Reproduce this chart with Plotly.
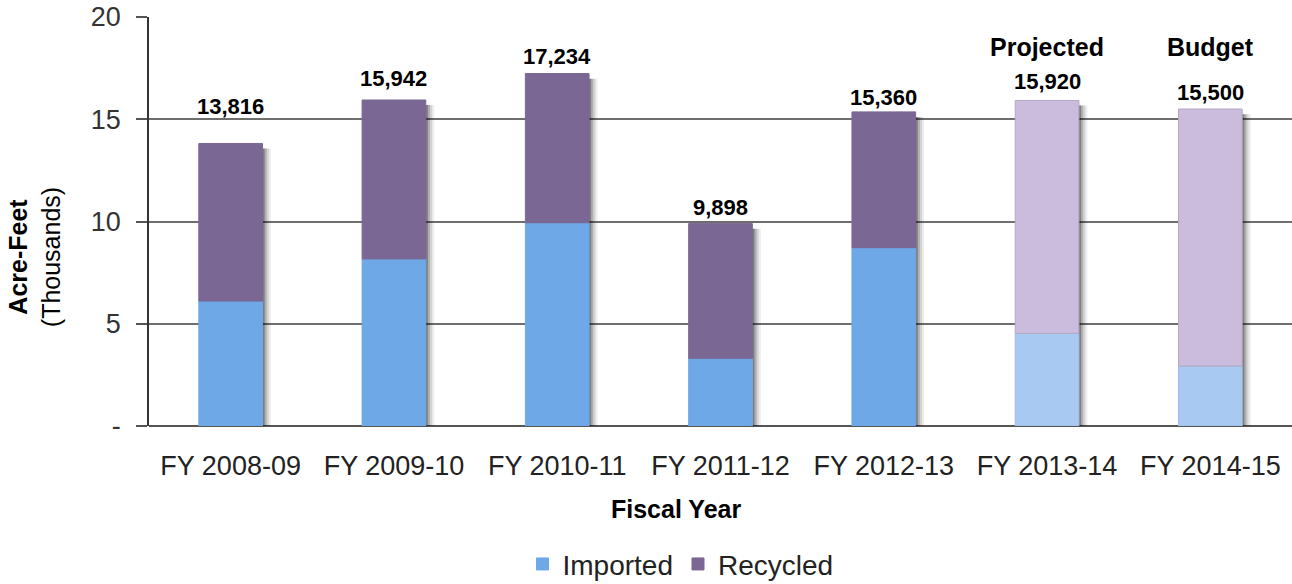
import plotly.graph_objects as go

# Water supply by fiscal year (acre-feet)
categories = ["FY 2008-09", "FY 2009-10", "FY 2010-11", "FY 2011-12",
              "FY 2012-13", "FY 2013-14", "FY 2014-15"]
totals_af = [13816, 15942, 17234, 9898, 15360, 15920, 15500]
imported_k = [6.11, 8.17, 9.94, 3.31, 8.72, 4.53, 2.93]
status_labels = ["", "", "", "", "", "Projected", "Budget"]

totals_k = [t / 1000 for t in totals_af]
recycled_k = [t - i for t, i in zip(totals_k, imported_k)]

# Actual years use solid colours, projected/budget years use tints
is_estimate = [s != "" for s in status_labels]
imp_colors = ["#A8CAF2" if e else "#6EA8E6" for e in is_estimate]
rec_colors = ["#CBBBDC" if e else "#7B6794" for e in is_estimate]
rec_lines = ["#B3A8C2" if e else "#7B6794" for e in is_estimate]
imp_lines = ["#9DBEE2" if e else "#6EA8E6" for e in is_estimate]

BAR_W = 0.39
FONT = "Liberation Sans, Arial, sans-serif"

fig = go.Figure()

# soft drop shadow to the right of each column
for k, alpha in [(4, 0.07), (3, 0.11), (2, 0.17), (1, 0.28)]:
    fig.add_trace(go.Bar(
        x=categories, y=[t - 0.25 for t in totals_k], base=0,
        width=BAR_W, offset=-BAR_W / 2 + 0.013 * k,
        marker=dict(color=f"rgba(0,0,0,{alpha})", line=dict(width=0)),
        showlegend=False, hoverinfo="skip",
    ))

fig.add_trace(go.Bar(
    name="Imported", x=categories, y=imported_k, base=0,
    width=BAR_W, offset=-BAR_W / 2,
    marker=dict(color=imp_colors, line=dict(color=imp_lines, width=1)),
))
fig.add_trace(go.Bar(
    name="Recycled", x=categories, y=recycled_k, base=imported_k,
    width=BAR_W, offset=-BAR_W / 2,
    marker=dict(color=rec_colors, line=dict(color=rec_lines, width=1)),
))

# total labels above each column
label_lift = [37, 21, 17, 16, 14, 19, 17]
for cat, tot, af, lift in zip(categories, totals_k, totals_af, label_lift):
    fig.add_annotation(
        x=cat, y=tot, yshift=lift, text=f"<b>{af:,}</b>", showarrow=False,
        yanchor="middle", font=dict(family=FONT, size=22, color="#000000"),
    )
for cat, s in zip(categories, status_labels):
    if s:
        fig.add_annotation(
            x=cat, y=18.55, text=f"<b>{s}</b>", showarrow=False,
            yanchor="middle", font=dict(family=FONT, size=25, color="#000000"),
        )

# axis titles
fig.add_annotation(
    xref="paper", yref="paper", x=-0.1, y=0.412,
    text="<b>Acre-Feet</b><br>(Thousands)", textangle=-90, showarrow=False,
    xanchor="center", yanchor="middle",
    font=dict(family=FONT, size=25, color="#000000"),
)
fig.add_annotation(
    xref="paper", yref="paper", x=0.461, y=-0.203,
    text="<b>Fiscal Year</b>", showarrow=False,
    xanchor="center", yanchor="middle",
    font=dict(family=FONT, size=25, color="#000000"),
)

fig.update_layout(
    width=1292, height=584,
    margin=dict(l=149, r=0, t=17, b=158, autoexpand=False),
    paper_bgcolor="white", plot_bgcolor="white",
    barmode="overlay", bargap=0.6,
    font=dict(family=FONT, color="#222222"),
    showlegend=True,
    legend=dict(
        orientation="h", x=0.465, y=-0.338, xanchor="center", yanchor="middle",
        font=dict(family=FONT, size=28, color="#222222"),
        itemwidth=30, traceorder="normal",
    ),
    xaxis=dict(
        type="category", showgrid=False, showline=False, ticks="",
        tickfont=dict(family=FONT, size=27, color="#222222"),
        ticklabelstandoff=21, automargin=False,
        fixedrange=True,
    ),
    yaxis=dict(
        range=[0, 20], tickvals=[0, 5, 10, 15, 20],
        ticktext=["-", "5", "10", "15", "20"],
        showgrid=True, gridcolor="#6E6E6E", gridwidth=1.5,
        zeroline=True, zerolinecolor="#555555", zerolinewidth=1.5,
        showline=True, linecolor="#333333", linewidth=1.5,
        ticks="outside", ticklen=11, tickcolor="#555555", tickwidth=1.5,
        tickfont=dict(family=FONT, size=27, color="#333333"),
        ticklabelstandoff=10, automargin=False,
    ),
)

fig.write_html("out.html")
